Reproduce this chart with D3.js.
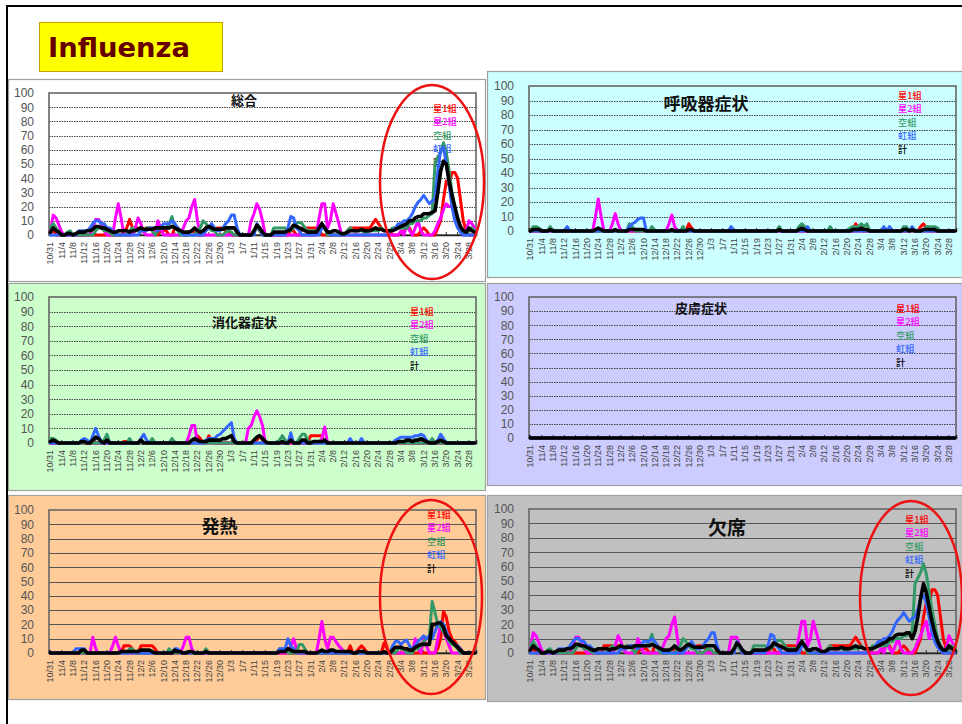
<!DOCTYPE html>
<html><head><meta charset="utf-8">
<script src="https://cdn.jsdelivr.net/npm/d3@7"></script>
<style>body{margin:0;background:#fff}svg{display:block}</style>
</head><body><svg id="c" width="962" height="724"></svg>
<script>
// ---------- categories & labels ----------
const days = d3.timeDay.range(new Date(2009, 9, 31), new Date(2010, 2, 31)); // 10/31 .. 3/30
const tickLabels = ["10/31","11/4","11/8","11/12","11/16","11/20","11/24","11/28","12/2","12/6","12/10","12/14","12/18","12/22","12/26","12/30","1/3","1/7","1/11","1/15","1/19","1/23","1/27","1/31","2/4","2/8","2/12","2/16","2/20","2/24","2/28","3/4","3/8","3/12","3/16","3/20","3/24","3/28"];
const seriesNames = ["星1組","星2組","空組","虹組","計"];
const yTickValues = [0,10,20,30,40,50,60,70,80,90,100];

// ---------- 総合 ----------
const sogoHoshi1 = [
2,3,0,0,0,0,0,0,0,0, 0,0,0,0,0,0,0,0,0,0, 0,0,0,0,0,0,2,5,11,5, 3,5,5,3,5,5,5,3,0,3,3,
3,0,0,5,5,3,0,0,2,3, 2,0,0,3,5,5,5,3,5,5, 5,3,2,0,0,0,0,0,0,0, 0,3,5,3,0,0,0,0,0,0,
0,0,0,0,3,3,0,0,5,5, 5,5,5,5,3,0,0,0,0,0, 0,0,0,0,3,5,5,5,5,5, 5,5,5,8,11,8,5,3,3,2,0,
0,0,2,3,5,5,0,0,0,3, 5,3,0,0,0,5,10,25,38,35, 44,44,40,25,10,3,0,0,0];
const sogoHoshi2 = [
3,14,12,7,2,0,0,0,0,0, 0,0,0,0,0,5,11,11,8,3, 0,0,0,12,22,12,0,0,0,0, 5,12,8,2,0,0,0,0,10,5,0,
0,0,0,0,0,0,5,10,12,20, 25,10,0,0,0,0,0,0,0,0, 0,0,0,0,0,0,0,0,0,0, 10,15,22,18,10,0,0,0,0,0,
0,0,0,0,0,0,0,0,0,0, 0,0,0,0,12,22,22,5,10,22, 15,8,0,0,0,0,0,0,0,0, 0,0,0,0,0,0,0,0,0,0,0,
0,0,3,0,8,3,0,5,10,3, 0,0,0,0,3,8,12,18,22,20, 20,15,10,5,0,3,10,8,5];
const sogoSora = [
5,8,5,2,0,0,2,3,0,0, 0,0,0,0,0,0,3,5,5,3, 3,2,0,0,0,0,0,0,3,5, 3,3,5,3,5,5,3,0,3,5,5,
5,8,13,5,3,0,0,0,0,0, 0,3,5,10,8,5,3,3,0,0, 0,2,3,2,0,0,0,0,0,0, 0,3,5,3,0,0,0,0,5,5,
5,5,5,3,3,5,8,9,8,5, 3,3,3,3,3,8,5,0,0,0, 0,0,0,0,3,5,3,3,3,3, 2,2,3,3,3,3,5,3,3,3,5,
5,5,5,5,5,8,8,10,10,10, 12,12,14,15,50,55,58,65,58,45, 30,20,10,5,2,0,3,5,3];
const sogoNiji = [
0,0,0,0,0,0,0,0,0,0, 3,3,3,3,5,8,10,10,8,8, 5,5,3,0,0,0,0,0,0,0, 0,0,3,3,3,5,5,5,3,5,8,
8,8,10,8,5,3,0,0,0,0, 0,0,0,0,3,5,8,5,3,3, 5,8,10,14,14,5,0,0,0,0, 0,0,8,5,0,0,0,0,0,0,
0,0,0,5,13,12,5,3,0,0, 0,0,0,0,0,5,5,3,0,0, 0,0,0,0,0,0,0,0,0,0, 0,0,0,0,0,0,0,0,0,3,3,
5,8,8,10,10,12,15,20,23,25, 28,25,22,24,25,45,60,62,50,35, 20,10,5,2,0,0,0,0,0];
const sogoKei = [
2,5,3,2,0,0,1,1,0,1, 2,2,2,3,3,4,6,6,5,5, 4,3,2,2,3,3,3,3,2,3, 3,4,5,4,4,4,4,5,5,5,5,
5,5,6,5,4,3,2,2,2,3, 5,3,2,3,5,6,5,4,4,4, 4,5,5,5,5,2,0,0,0,0, 0,3,7,5,2,0,0,0,2,2,
2,2,2,3,4,7,6,5,4,3, 2,2,2,2,5,8,5,2,2,3, 3,2,1,1,2,3,3,3,3,4, 3,3,3,4,5,4,4,3,3,3,3,
4,5,6,7,8,10,10,12,13,13, 15,15,15,16,17,30,45,52,50,38, 28,20,12,6,3,2,5,3,2];

// ---------- 呼吸器症状 ----------
const kokyuHoshi1 = [
0,0,0,0,0,0,0,0,0,0, 0,0,0,0,0,0,0,0,0,0, 0,0,0,0,0,0,0,0,0,0, 0,0,0,0,0,0,0,0,0,0,0,
0,0,0,0,0,0,0,0,0,0, 0,0,0,0,0,5,2,0,0,0, 0,0,0,0,0,0,0,0,0,0, 0,0,0,0,0,0,0,0,0,0,
0,0,0,0,0,0,0,0,0,0, 0,0,0,0,0,0,0,0,0,0, 0,0,0,0,0,0,0,0,0,0, 0,0,0,0,5,2,0,0,0,0,0,
0,0,0,0,0,0,0,0,0,0, 0,0,0,0,0,0,3,5,2,0, 0,0,0,0,0,0,0,0,0];
const kokyuHoshi2 = [
0,0,0,0,0,0,0,0,0,0, 0,0,0,0,0,0,0,0,0,0, 0,0,0,10,22,10,0,0,0,5, 12,5,0,0,0,0,0,0,0,0,0,
0,0,0,0,0,0,0,0,5,11, 3,0,0,0,0,0,0,0,0,0, 0,0,0,0,0,0,0,0,0,0, 0,0,0,0,0,0,0,0,0,0,
0,0,0,0,0,0,0,0,0,0, 0,0,0,0,0,0,0,0,0,0, 0,0,0,0,0,0,0,0,0,0, 0,0,0,0,0,0,0,0,0,0,0,
0,0,0,0,0,0,0,0,0,0, 0,0,0,0,0,0,0,0,0,0, 0,0,0,0,0,0,0,0,0];
const kokyuSora = [
0,3,3,2,0,0,0,3,0,0, 0,0,0,0,0,0,0,0,0,0, 0,0,0,0,0,0,0,0,0,0, 0,0,0,0,0,5,3,0,0,0,0,
0,0,3,0,0,0,0,0,0,0, 0,0,0,3,0,0,0,0,0,0, 0,0,0,0,0,0,0,0,0,0, 0,0,0,0,0,0,0,0,0,0,
0,0,0,0,0,0,0,3,0,0, 0,0,0,0,3,5,3,0,0,0, 0,0,0,0,0,3,0,0,0,0, 0,0,2,3,3,3,5,3,5,0,0,
0,0,0,0,0,0,0,0,0,0, 3,3,0,0,0,0,0,0,3,3, 3,3,2,0,0,0,0,0,0];
const kokyuNiji = [
0,0,0,0,0,0,0,0,0,0, 0,0,0,3,0,0,0,0,0,0, 0,0,0,0,0,0,0,0,0,0, 0,0,0,0,0,3,5,6,8,9,9,
0,0,0,0,0,0,0,0,0,0, 0,0,0,0,0,0,0,0,0,0, 0,0,0,0,0,0,0,0,0,0, 3,0,0,0,0,0,0,0,0,0,
0,0,0,0,0,0,0,0,0,0, 0,0,0,0,0,0,0,3,0,0, 0,0,0,0,0,0,0,0,0,0, 0,0,0,0,0,0,0,0,0,0,0,
0,0,0,3,0,3,0,0,0,0, 0,0,0,3,0,0,0,0,0,0, 0,0,0,0,0,0,0,0,0];
const kokyuKei = [
0,1,1,1,0,0,0,1,0,0, 0,0,0,0,0,0,0,0,0,0, 0,0,0,1,2,1,0,0,0,0, 1,0,0,0,0,1,1,1,1,1,1,
0,0,0,0,0,0,0,0,0,1, 0,0,0,0,0,1,1,0,0,0, 0,0,0,0,0,0,0,0,0,0, 0,0,0,0,0,0,0,0,0,0,
0,0,0,0,0,0,0,1,0,0, 0,0,0,0,1,2,1,0,0,0, 0,0,0,0,0,0,0,0,0,0, 0,0,0,1,1,1,2,1,1,0,0,
0,0,0,0,0,0,0,0,0,0, 1,1,0,1,0,0,0,1,1,1, 1,1,0,0,0,0,0,0,0];

// ---------- 消化器症状 ----------
const shokaHoshi1 = [
0,0,0,0,0,0,0,0,0,0, 0,0,0,0,0,0,0,0,0,0, 0,0,0,0,0,0,1,1,0,0, 0,0,0,0,0,0,0,0,0,0,0,
0,0,0,0,0,0,0,0,0,0, 0,5,3,0,0,5,2,0,0,0, 0,0,0,0,0,0,0,0,0,0, 0,0,2,5,2,0,0,0,0,0,
0,0,0,0,0,0,0,0,0,0, 0,5,5,5,5,5,0,0,0,0, 0,0,0,0,0,0,0,0,0,0, 0,0,0,0,0,0,0,0,0,0,0,
0,0,0,0,0,0,0,0,0,0, 0,0,0,0,0,0,0,0,0,0, 0,0,0,0,0,0,0,0,0];
const shokaHoshi2 = [
0,0,0,0,0,0,0,0,0,0, 0,0,0,0,0,0,0,0,0,0, 0,0,0,0,0,0,0,0,0,0, 0,0,0,0,0,0,0,0,0,0,0,
0,0,0,0,0,0,0,0,5,12, 12,0,0,0,0,0,0,0,0,0, 0,0,0,0,0,0,0,0,0,10, 12,18,22,18,12,0,0,0,0,0,
0,0,0,0,0,0,0,0,0,0, 0,0,0,0,0,3,11,0,0,0, 0,0,0,0,0,0,0,0,0,0, 0,0,0,0,0,0,0,0,0,0,0,
0,0,0,0,0,0,0,0,0,0, 0,0,0,0,0,0,0,0,0,0, 0,0,0,0,0,0,0,0,0];
const shokaSora = [
3,3,2,0,0,0,0,0,0,0, 0,0,0,0,0,0,0,0,0,2, 6,0,0,0,0,0,0,0,3,0, 0,0,0,0,0,0,3,0,0,0,0,
0,0,3,0,0,0,0,0,0,0, 0,0,0,0,0,0,0,0,0,0, 0,0,0,0,0,0,0,0,0,0, 0,0,0,0,0,0,0,0,0,0,
2,5,2,0,3,0,0,3,6,6, 2,0,0,0,0,0,0,0,0,0, 0,0,0,0,0,0,0,0,0,0, 0,0,0,0,0,0,0,0,0,0,0,
0,0,0,0,0,0,0,0,0,0, 0,0,0,3,0,0,0,0,0,0, 0,0,0,0,0,0,0,0,0];
const shokaNiji = [
0,0,0,0,0,0,0,0,0,0, 0,2,3,2,0,5,10,5,0,0, 0,0,0,0,0,0,0,0,0,0, 0,0,3,6,2,0,0,0,0,0,0,
0,0,0,0,0,0,0,0,0,0, 0,0,0,0,2,3,3,3,5,6, 8,10,12,14,3,0,0,0,0,0, 0,0,0,0,0,0,0,0,0,0,
0,0,0,0,7,0,0,0,0,0, 0,0,0,0,0,0,0,0,0,0, 0,0,0,0,0,3,0,0,0,3, 0,0,0,0,0,0,0,0,0,0,0,
2,3,4,4,4,4,4,5,5,6, 5,2,0,0,0,2,6,3,0,0, 0,0,0,0,0,0,0,0,0];
const shokaKei = [
1,2,1,0,0,0,0,0,0,0, 0,1,1,0,0,2,4,3,1,0, 2,0,0,0,0,0,0,0,0,0, 0,0,2,0,0,0,0,0,0,0,0,
0,0,0,0,0,0,0,0,0,2, 3,2,1,1,1,2,2,2,2,2, 3,3,4,5,1,0,0,0,0,0, 0,2,4,5,3,1,0,0,0,0,
0,1,0,0,2,0,0,0,2,2, 0,0,1,1,1,1,2,0,0,0, 0,0,0,0,0,0,0,0,0,0, 0,0,0,0,0,0,0,0,0,0,0,
0,1,1,1,2,2,1,2,2,3, 2,1,0,0,0,1,2,1,0,0, 0,0,0,0,0,0,0,0,0];

// ---------- 皮膚症状 (all zero) ----------
const hifuZero = [
0,0,0,0,0,0,0,0,0,0, 0,0,0,0,0,0,0,0,0,0, 0,0,0,0,0,0,0,0,0,0, 0,0,0,0,0,0,0,0,0,0,0,
0,0,0,0,0,0,0,0,0,0, 0,0,0,0,0,0,0,0,0,0, 0,0,0,0,0,0,0,0,0,0, 0,0,0,0,0,0,0,0,0,0,
0,0,0,0,0,0,0,0,0,0, 0,0,0,0,0,0,0,0,0,0, 0,0,0,0,0,0,0,0,0,0, 0,0,0,0,0,0,0,0,0,0,0,
0,0,0,0,0,0,0,0,0,0, 0,0,0,0,0,0,0,0,0,0, 0,0,0,0,0,0,0,0,0];

// ---------- 発熱 ----------
const netsuHoshi1 = [
0,0,0,0,0,0,0,0,0,0, 0,0,0,0,0,0,0,0,0,0, 0,0,0,0,0,0,5,5,5,3, 0,0,5,5,5,5,5,3,0,0,0,
0,0,0,0,0,0,0,0,0,0, 0,0,0,0,0,0,0,0,0,0, 0,0,0,0,0,0,0,0,0,0, 0,0,0,0,0,0,0,0,0,0,
0,0,0,0,0,0,0,0,0,0, 0,0,0,0,0,0,0,0,0,0, 0,0,0,0,0,5,0,0,3,5, 3,0,0,0,0,0,0,7,3,0,0,
0,0,0,0,0,0,0,0,0,0, 0,0,0,0,0,3,10,29,25,15, 10,8,5,3,0,0,0,0,0];
const netsuHoshi2 = [
0,0,0,0,0,0,0,0,0,0, 0,0,0,0,0,11,3,0,0,0, 0,0,5,11,5,0,0,0,0,0, 0,0,0,0,0,0,0,0,0,0,0,
0,0,0,0,0,0,5,11,11,3, 0,0,0,0,0,0,0,0,0,0, 0,0,0,0,0,0,0,0,0,0, 0,0,0,0,0,0,0,0,0,0,
0,0,0,0,5,10,3,0,0,0, 0,0,0,0,10,22,10,3,11,11, 8,5,3,0,0,0,0,0,0,0, 0,0,0,0,0,0,0,0,0,0,0,
0,0,0,0,0,0,0,10,3,0, 10,5,0,0,0,10,20,15,10,5, 0,0,0,0,0,0,0,0,0];
const netsuSora = [
0,0,0,0,0,0,0,0,0,0, 0,0,0,0,0,0,0,0,0,0, 0,0,0,0,0,0,0,0,3,3, 0,0,0,0,0,0,0,0,0,0,0,
0,3,0,0,0,0,0,0,0,0, 0,0,0,0,3,0,0,0,0,0, 0,0,0,0,0,0,0,0,0,0, 0,0,0,0,0,0,0,0,0,0,
3,3,3,0,0,0,0,6,6,3, 0,0,0,0,0,0,0,0,0,0, 0,0,0,0,0,0,0,0,0,0, 0,0,0,0,0,0,0,0,0,0,0,
0,3,3,3,0,0,0,3,3,5, 8,10,12,36,28,20,18,15,12,8, 6,5,3,0,0,0,0,0,0];
const netsuNiji = [
0,0,0,0,0,0,0,0,0,3, 3,3,3,0,0,0,0,0,0,0, 0,0,0,0,0,0,0,0,0,0, 0,0,0,0,0,0,0,0,0,0,0,
0,0,0,3,3,0,0,0,0,0, 0,0,0,0,0,0,0,0,0,0, 0,0,0,0,0,0,0,0,0,0, 0,0,0,0,0,0,0,0,0,0,
3,3,3,10,5,3,0,0,0,0, 0,0,0,0,0,0,0,0,0,0, 0,0,0,0,0,0,0,0,0,0, 0,0,0,0,0,0,0,0,0,0,5,
8,8,6,8,9,5,3,5,8,10, 12,10,12,10,15,20,22,20,15,10, 8,6,5,3,0,0,0,0,0];
const netsuKei = [
0,0,0,0,0,0,0,0,0,0, 0,2,2,0,0,0,0,0,0,0, 0,0,0,0,0,1,1,1,1,1, 1,1,2,2,2,2,1,0,0,0,0,
0,0,0,2,1,1,0,0,1,1, 0,0,0,0,1,0,0,0,0,0, 0,0,0,0,0,0,0,0,0,0, 0,0,0,0,0,0,0,0,0,0,
1,1,1,3,2,1,1,1,1,1, 0,0,0,0,1,2,1,1,2,2, 1,1,1,1,1,1,0,0,1,1, 1,0,0,0,0,0,0,1,0,0,2,
4,4,4,3,3,2,2,4,5,6, 6,6,6,20,20,21,21,18,12,10, 8,6,4,2,0,0,0,0,0];

// ---------- 欠席 ----------
const kessekiHoshi1 = [
2,3,0,0,0,0,0,0,0,0, 0,0,0,0,0,0,0,0,0,0, 0,0,0,0,0,0,5,5,5,5, 3,5,5,3,5,5,5,3,0,3,3,
3,0,0,5,5,3,0,0,2,3, 2,0,0,3,5,5,5,3,5,5, 5,3,2,0,0,0,0,0,0,0, 0,3,5,3,0,0,0,0,0,0,
0,0,0,0,3,3,0,0,5,5, 5,5,5,5,3,0,0,0,0,0, 0,0,0,0,3,5,5,5,5,5, 5,5,5,8,11,8,5,3,3,2,0,
0,0,2,3,5,5,0,0,0,3, 5,3,0,0,0,5,10,25,35,35, 44,44,40,25,10,3,0,0,0];
const kessekiHoshi2 = [
3,14,12,7,2,0,0,0,0,0, 0,0,0,0,0,5,11,11,8,3, 0,0,0,0,0,0,0,0,0,0, 5,12,8,2,0,0,0,0,10,5,0,
0,0,0,0,0,0,5,10,12,20, 25,10,0,0,0,0,0,0,0,0, 0,0,0,0,0,0,0,0,0,0, 11,11,11,5,0,0,0,0,0,0,
0,0,0,0,0,0,0,0,0,0, 0,0,0,0,12,22,22,5,10,22, 15,8,0,0,0,0,0,0,0,0, 0,0,0,0,0,0,0,0,0,0,0,
0,0,3,0,8,3,0,5,10,3, 0,0,0,0,3,8,12,18,22,10, 15,10,8,5,0,3,12,8,5];
const kessekiSora = [
5,8,5,2,0,0,2,3,0,0, 0,0,0,0,0,0,3,5,5,3, 3,2,0,0,0,0,0,0,3,5, 3,3,5,3,5,5,3,0,3,5,5,
5,8,13,5,3,0,0,0,0,0, 0,3,5,10,8,5,3,3,0,0, 0,2,3,2,0,0,0,0,0,0, 0,3,5,3,0,0,0,0,5,5,
5,5,5,3,3,5,8,9,8,5, 3,3,3,3,3,8,5,0,0,0, 0,0,0,0,3,5,3,3,3,3, 2,2,3,3,3,3,5,3,3,3,5,
5,5,5,5,5,8,8,10,10,10, 12,12,14,15,48,52,56,62,55,42, 30,20,10,5,2,0,3,5,3];
const kessekiNiji = [
0,0,0,0,0,0,0,0,0,0, 3,3,3,3,5,8,10,10,8,8, 5,5,3,0,0,0,0,0,0,0, 0,0,3,3,3,5,5,5,3,5,8,
8,8,10,8,5,3,0,0,0,0, 0,0,0,0,3,5,8,5,3,3, 5,8,10,14,14,5,0,0,0,0, 0,0,8,5,0,0,0,0,0,0,
0,0,0,5,13,12,5,3,0,0, 0,0,0,0,0,5,5,3,0,0, 0,0,0,0,0,0,0,0,0,0, 0,0,0,0,0,0,0,0,0,3,3,
5,8,8,10,10,12,15,20,23,25, 28,25,22,24,25,30,38,40,35,25, 15,8,4,2,0,0,0,0,0];
const kessekiKei = [
2,5,3,2,0,0,1,1,0,1, 2,2,2,3,3,4,6,6,5,5, 4,3,2,2,3,3,3,3,2,3, 3,4,5,4,4,4,4,5,5,5,5,
5,5,6,5,4,3,2,2,2,3, 5,3,2,3,5,6,5,4,4,4, 4,5,5,5,5,2,0,0,0,0, 0,3,7,5,2,0,0,0,2,2,
2,2,2,3,4,7,6,5,4,3, 2,2,2,2,5,8,5,2,2,3, 3,2,1,1,2,3,3,3,3,4, 3,3,3,4,5,4,4,3,3,3,3,
4,5,6,7,8,10,10,12,13,13, 13,14,14,10,15,25,38,48,42,32, 22,14,8,4,2,2,5,3,2];

// ---------- styles ----------
const seriesColors = ["#ff0000","#ff00ff","#339966","#3366ff","#000000"];
const seriesWidths = [3,3,3,3,3.6];
const jp = "'Noto Sans CJK JP','Noto Sans CJK SC',sans-serif";
const num = "'Liberation Sans',Arial,sans-serif";

const svg = d3.select("#c");
svg.append("rect").attr("width",962).attr("height",724).attr("fill","#fff");

const panels = [
  {title:"総合", ts:13, tw:700, tx:244, ty:99, box:[8,79,477,202], bg:"#ffffff", plot:[49,476,93,235], leg:[433,108], dotted:true,
   data:[sogoHoshi1,sogoHoshi2,sogoSora,sogoNiji,sogoKei], ell:[432,182,52,97]},
  {title:"呼吸器症状", ts:17, tw:700, tx:706, ty:102.5, box:[487,71,475,206], bg:"#ccffff", plot:[529,956,86,231], leg:[898,95], dotted:true,
   data:[kokyuHoshi1,kokyuHoshi2,kokyuSora,kokyuNiji,kokyuKei]},
  {title:"消化器症状", ts:13, tw:700, tx:244.5, ty:321, box:[8,283,477,207], bg:"#ccffcc", plot:[49,476,297,443], leg:[410,311], dotted:true,
   data:[shokaHoshi1,shokaHoshi2,shokaSora,shokaNiji,shokaKei]},
  {title:"皮膚症状", ts:13, tw:700, tx:701, ty:307.5, box:[487,283,475,202], bg:"#ccccff", plot:[529,956,297,438], leg:[896,308], dotted:true,
   data:[hifuZero,hifuZero,hifuZero,hifuZero,hifuZero]},
  {title:"発熱", ts:18, tw:700, tx:219.5, ty:525, box:[8,495,477,204], bg:"#ffcc99", plot:[49,476,510,653], leg:[427,514], dotted:false,
   data:[netsuHoshi1,netsuHoshi2,netsuSora,netsuNiji,netsuKei], ell:[431,597,51,97]},
  {title:"欠席", ts:19, tw:700, tx:727, ty:526, box:[487,495,475,206], bg:"#c0c0c0", plot:[529,956,509,653], leg:[905,519], dotted:false,
   data:[kessekiHoshi1,kessekiHoshi2,kessekiSora,kessekiNiji,kessekiKei], ell:[911,598,51,97]}
];

panels.forEach(p => p.data.forEach((a,k) => { if (a.length !== days.length) throw new Error(p.title+" series "+k+" length "+a.length); }));

function drawPanel(p) {
  const g = svg.append("g");
  g.append("rect").attr("x",p.box[0]+0.5).attr("y",p.box[1]+0.5).attr("width",p.box[2]).attr("height",p.box[3])
    .attr("fill",p.bg).attr("stroke","#a0a0a0").attr("stroke-width",1.2);
  const [L,R,T,B] = p.plot;
  const x = d3.scaleBand().domain(d3.range(days.length)).range([L,R]);
  const y = d3.scaleLinear().domain([0,100]).range([B,T]);
  // grid
  g.append("g").selectAll("line").data(yTickValues.filter(v => v > 0 && v < 100)).join("line")
    .attr("x1",L).attr("x2",R).attr("y1",d=>Math.round(y(d))+0.5).attr("y2",d=>Math.round(y(d))+0.5)
    .attr("stroke", p.dotted ? "#444" : "#555").attr("stroke-width",1)
    .attr("stroke-dasharray", p.dotted ? "1.5,1" : null);
  // frame
  g.append("rect").attr("x",L).attr("y",T).attr("width",R-L).attr("height",B-T)
    .attr("fill","none").attr("stroke","#666").attr("stroke-width",1.6);
  // y axis
  const ya = g.append("g").attr("transform",`translate(${L},0)`)
    .call(d3.axisLeft(y).tickValues(yTickValues).tickSize(0).tickPadding(15));
  ya.select(".domain").remove();
  ya.selectAll("text").attr("font-family",num).attr("font-size",12).attr("fill","#555");
  // x axis
  const xa = g.append("g").attr("transform",`translate(0,${B})`)
    .call(d3.axisBottom(x).tickValues(d3.range(0,days.length,4)).tickFormat(i => tickLabels[i/4]).tickSize(-3));
  xa.select(".domain").attr("stroke","#222").attr("stroke-width",1.5);
  xa.selectAll(".tick line").attr("stroke","#333");
  xa.selectAll("text").attr("transform","rotate(-90)").attr("text-anchor","end")
    .attr("x",-7).attr("y",0).attr("dy","0.33em")
    .attr("font-family",num).attr("font-size",9).attr("fill","#444");
  // title
  g.append("text").attr("x",p.tx).attr("y",p.ty).attr("text-anchor","middle").attr("dominant-baseline","central")
    .attr("font-family",jp).attr("font-size",p.ts).attr("font-weight",p.tw).attr("fill","#111").text(p.title);
  // legend
  g.append("g").selectAll("text").data(seriesNames).join("text")
    .attr("x",p.leg[0]).attr("y",(d,i)=>p.leg[1]+i*13.4).attr("dominant-baseline","central")
    .attr("font-family",jp).attr("font-size",9.2).attr("font-weight",500)
    .attr("fill",(d,i)=>seriesColors[i]).text(d=>d);
  // lines
  const line = d3.line().x((v,i)=>x(i)+x.bandwidth()/2).y(v=>y(v));
  g.append("g").selectAll("path").data(p.data).join("path")
    .attr("d",d=>line(d)).attr("fill","none")
    .attr("stroke",(d,i)=>seriesColors[i]).attr("stroke-width",(d,i)=>seriesWidths[i])
    .attr("stroke-linejoin","round").attr("stroke-linecap","round");
}
panels.forEach(drawPanel);

// red ellipses
panels.filter(p=>p.ell).forEach(p=>{
  svg.append("ellipse").attr("cx",p.ell[0]).attr("cy",p.ell[1]).attr("rx",p.ell[2]).attr("ry",p.ell[3])
    .attr("fill","none").attr("stroke","#ee1111").attr("stroke-width",2.5);
});

// title box
svg.append("rect").attr("x",39.5).attr("y",22.5).attr("width",183).attr("height",49)
  .attr("fill","#ffff00").attr("stroke","#c8a200").attr("stroke-width",1);
svg.append("text").attr("x",48).attr("y",57).attr("font-family","'DejaVu Sans',sans-serif")
  .attr("font-weight","bold").attr("font-size",27).attr("fill","#660000")
  .attr("textLength",142).attr("lengthAdjust","spacingAndGlyphs").text("Influenza");

// outer frame
svg.append("rect").attr("x",7).attr("y",6).attr("width",980).attr("height",740)
  .attr("fill","none").attr("stroke","#000").attr("stroke-width",2);
</script></body></html>
